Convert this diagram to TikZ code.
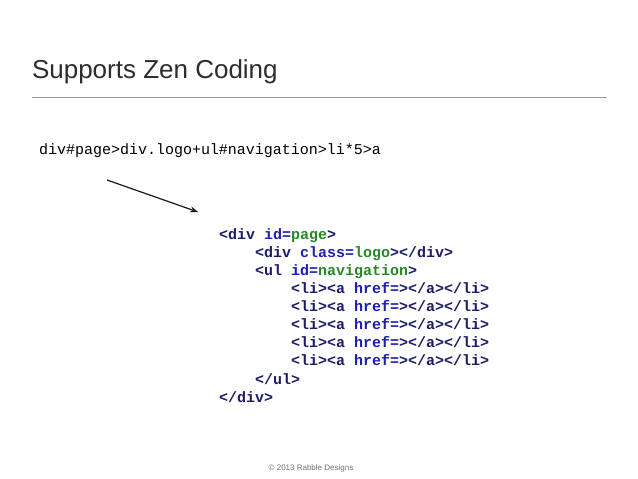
\documentclass[tikz,border=0pt]{standalone}
\usepackage{fontspec}
\usetikzlibrary{arrows.meta}
\setmainfont{Liberation Sans}
\setmonofont{Liberation Mono}
\definecolor{tagc}{RGB}{28,28,105}
\definecolor{attrc}{RGB}{30,30,175}
\definecolor{valc}{RGB}{40,135,40}
\definecolor{titlec}{RGB}{45,45,45}
\definecolor{rulec}{RGB}{150,150,150}
\newcommand{\tg}[1]{\textcolor{tagc}{#1}}
\newcommand{\at}[1]{\textcolor{attrc}{#1}}
\newcommand{\vl}[1]{\textcolor{valc}{#1}}
\begin{document}
\begin{tikzpicture}[x=1pt,y=-1pt,
  txt/.style={anchor=base west,inner sep=0pt,outer sep=0pt},
  code/.style={txt,font=\fontsize{15}{18}\selectfont\ttfamily\bfseries},
  arr/.style={-{Stealth[length=8pt,width=6pt]},line width=1.2pt,black!90}]
\useasboundingbox (0,0) rectangle (638,479);
\fill[white] (0,0) rectangle (638,479);
\node[txt,font=\fontsize{26}{30}\selectfont,text=titlec] (title) at (32,78) {Supports Zen Coding};
\coordinate (ruleL) at (32,97);
\coordinate (ruleR) at (607,97);
\draw[rulec,line width=0.8pt] (ruleL) -- (ruleR);
\node[txt,font=\fontsize{15}{18}\selectfont\ttfamily] (input) at (39,154) {div\#page>div.logo+ul\#navigation>li*5>a};
\coordinate (arrA) at (107,180);
\coordinate (arrB) at (198,212);
\draw[arr] (arrA) -- (arrB);
\node[code] (l1) at (219,239) {\tg{<div} \at{id=}\vl{page}\tg{>}};
\node[code] (l2) at (255,257) {\tg{<div} \at{class=}\vl{logo}\tg{></div>}};
\node[code] (l3) at (255,275) {\tg{<ul} \at{id=}\vl{navigation}\tg{>}};
\node[code] (l4) at (291,293) {\tg{<li><a} \at{href=}\tg{></a></li>}};
\node[code] (l5) at (291,311) {\tg{<li><a} \at{href=}\tg{></a></li>}};
\node[code] (l6) at (291,329) {\tg{<li><a} \at{href=}\tg{></a></li>}};
\node[code] (l7) at (291,347) {\tg{<li><a} \at{href=}\tg{></a></li>}};
\node[code] (l8) at (291,365) {\tg{<li><a} \at{href=}\tg{></a></li>}};
\node[code] (l9) at (255,384) {\tg{</ul>}};
\node[code] (l10) at (219,402) {\tg{</div>}};
\node[anchor=base,inner sep=0pt,font=\fontsize{8}{10}\selectfont,text=black!55] (foot) at (311,470) {© 2013 Rabble Designs};
\end{tikzpicture}
\end{document}
